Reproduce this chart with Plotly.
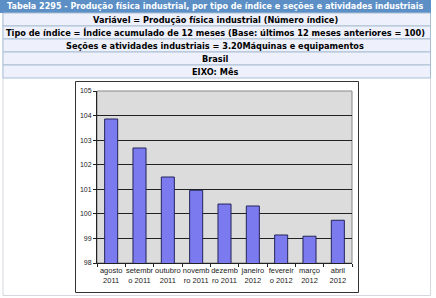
import plotly.graph_objects as go

categories = ["agosto<br>2011", "setembr<br>o 2011", "outubro<br>2011", "novemb<br>ro 2011",
              "dezemb<br>ro 2011", "janeiro<br>2012", "fevereir<br>o 2012", "março<br>2012", "abril<br>2012"]
values = [103.86, 102.68, 101.50, 100.96, 100.40, 100.32, 99.14, 99.09, 99.74]
y_ticks = [98, 99, 100, 101, 102, 103, 104, 105]

header_title = "Tabela 2295 - Produção física industrial, por tipo de índice e seções e atividades industriais"
header_rows = [
    "Variável = Produção física industrial (Número índice)",
    "Tipo de índice = Índice acumulado de 12 meses (Base: últimos 12 meses anteriores = 100)",
    "Seções e atividades industriais = 3.20Máquinas e equipamentos",
    "Brasil",
    "EIXO: Mês",
]

W, H = 436, 298
L, R, T, B = 97, 352, 91, 263


def px(x):
    return (x - L) / (R - L)


def py(y):
    return (B - y) / (B - T)


shapes = []
annotations = []

# outer container
shapes.append(dict(type="rect", xref="paper", yref="paper", x0=px(3), x1=px(430.5), y0=py(295.5), y1=py(0),
                   fillcolor="white", line=dict(color="#d4d8de", width=1), layer="below"))
# title row
shapes.append(dict(type="rect", xref="paper", yref="paper", x0=px(0), x1=px(431), y0=py(13), y1=py(0),
                   fillcolor="#5b8fc6", line=dict(width=0), layer="below"))
annotations.append(dict(text=header_title, xref="paper", yref="paper", x=px(215.5), y=py(6.5),
                        showarrow=False, xanchor="center", yanchor="middle",
                        font=dict(family="DejaVu Sans", size=8.05, color="white", weight="bold")))
for i, t in enumerate(header_rows):
    y0 = 13 + i * 13
    shapes.append(dict(type="rect", xref="paper", yref="paper", x0=px(3), x1=px(430.5), y0=py(y0 + 13), y1=py(y0),
                       fillcolor="#eef0fb", line=dict(color="#a9bfd4", width=1), layer="below"))
    annotations.append(dict(text=t, xref="paper", yref="paper", x=px(215), y=py(y0 + 6.8),
                            showarrow=False, xanchor="center", yanchor="middle",
                            font=dict(family="DejaVu Sans", size=8.2, color="black", weight="bold")))

# chart box
shapes.append(dict(type="rect", xref="paper", yref="paper", x0=px(75.5), x1=px(358.5), y0=py(292.5), y1=py(81.5),
                   fillcolor="white", line=dict(color="#333333", width=1), layer="below"))
# plot area background
shapes.append(dict(type="rect", xref="paper", yref="paper", x0=0, x1=1, y0=0, y1=1,
                   fillcolor="#dcdcdc", line=dict(color="#888888", width=1), layer="below"))

fig = go.Figure()
fig.add_trace(go.Bar(x=categories, y=values, marker=dict(color="#7b7bef", line=dict(color="#24245a", width=1)),
                     width=0.46))

fig.update_layout(
    width=W, height=H,
    margin=dict(l=L, r=W - R, t=T, b=H - B),
    paper_bgcolor="white",
    plot_bgcolor="rgba(0,0,0,0)",
    showlegend=False,
    shapes=shapes,
    annotations=annotations,
    font=dict(family="Liberation Sans, Arial", size=7, color="#222222"),
    xaxis=dict(showgrid=False, showline=True, linecolor="#222222", linewidth=1,
               ticks="outside", ticklen=3, tickcolor="#222222", tickson="boundaries",
               tickfont=dict(size=7.5, family="Liberation Sans, Arial", color="#222222"), tickangle=0,
               fixedrange=True),
    yaxis=dict(range=[98, 105], tickvals=y_ticks, showgrid=True, gridcolor="#222222", gridwidth=1,
               showline=True, linecolor="#222222", linewidth=1, ticks="outside", ticklen=3,
               tickcolor="#222222", zeroline=False,
               tickfont=dict(size=7, family="Liberation Sans, Arial", color="#222222"), fixedrange=True),
)

fig.write_html("out.html", config={"displayModeBar": False})
